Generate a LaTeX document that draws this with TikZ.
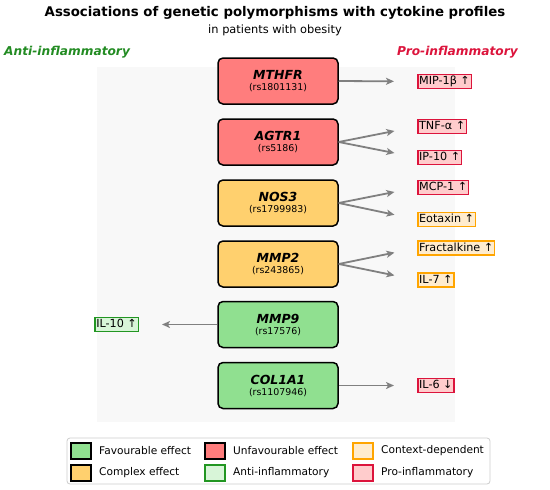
\documentclass[tikz,border=0pt]{standalone}
\usepackage{fontspec}
\setmainfont{DejaVu Sans}
\usepackage{xcolor}
\usetikzlibrary{arrows.meta}

\definecolor{favcol}{RGB}{144,224,144}
\definecolor{unfavcol}{RGB}{255,125,125}
\definecolor{cmplxcol}{RGB}{255,208,110}
\definecolor{procol}{RGB}{220,20,60}
\definecolor{profill}{RGB}{255,204,204}
\definecolor{ctxcol}{RGB}{255,165,0}
\definecolor{ctxfill}{RGB}{255,236,206}
\definecolor{anticol}{RGB}{34,150,34}
\definecolor{antifill}{RGB}{216,245,216}
\definecolor{antitext}{RGB}{34,139,34}
\definecolor{linkgray}{RGB}{128,128,128}
\definecolor{bgcol}{RGB}{248,248,248}

\tikzset{
  gene/.style={draw=black, line width=1.5pt, rounded corners=5pt, minimum width=120pt, minimum height=46pt, align=center, inner sep=0pt},
  cyto/.style={line width=1.5pt, font=\fontsize{11.2}{12}\selectfont, inner sep=1.4pt, text height=8.8pt, text depth=2.6pt},
  pro/.style={cyto, draw=procol, fill=profill},
  ctx/.style={cyto, draw=ctxcol, fill=ctxfill},
  anti/.style={cyto, draw=anticol, fill=antifill},
  link/.style={-{Stealth[length=8pt,width=7pt,inset=2pt]}, draw=linkgray, fill=linkgray, line width=1.8pt, shorten >=23pt},
  patch/.style={minimum width=20pt, minimum height=16pt, inner sep=0pt, line width=1.3pt},
  legtext/.style={anchor=west, font=\fontsize{10.6}{12}\selectfont, inner sep=0pt}
}

\newcommand{\genelabel}[2]{{\fontsize{12.5}{14}\selectfont\bfseries\itshape #1}\\[-1pt]{\fontsize{9.4}{11}\selectfont (#2)}}

\begin{document}
\begin{tikzpicture}[x=1pt, y=-1pt]
    \useasboundingbox (0,0) rectangle (550,490);

    % Title
    \node[font=\fontsize{13.3}{16}\selectfont\bfseries] (title) at (275,12.5) {Associations of genetic polymorphisms with cytokine profiles};
    \node[font=\fontsize{11.4}{14}\selectfont] (subtitle) at (275,30.5) {in patients with obesity};
    \node[anchor=west, text=antitext, font=\fontsize{12.2}{14}\selectfont\bfseries\itshape, inner sep=0pt] (antihead) at (4,52) {Anti-inflammatory};
    \node[anchor=east, text=procol, font=\fontsize{12.2}{14}\selectfont\bfseries\itshape, inner sep=0pt] (prohead) at (518,52) {Pro-inflammatory};

    % Background panel
    \fill[bgcol] (97,67) rectangle (455,422);

    % Genes
    \node[gene, fill=unfavcol] (mthfr) at (278,81) {\genelabel{MTHFR}{rs1801131}};
    \node[gene, fill=unfavcol] (agtr) at (278,142) {\genelabel{AGTR1}{rs5186}};
    \node[gene, fill=cmplxcol] (nos) at (278,203) {\genelabel{NOS3}{rs1799983}};
    \node[gene, fill=cmplxcol] (mmpii) at (278,264) {\genelabel{MMP2}{rs243865}};
    \node[gene, fill=favcol] (mmpix) at (278,324.5) {\genelabel{MMP9}{rs17576}};
    \node[gene, fill=favcol] (colia) at (278,385.5) {\genelabel{COL1A1}{rs1107946}};

    % Cytokines
    \node[pro, anchor=west] (mip) at (417,81.5) {MIP-1β ↑};
    \node[pro, anchor=west] (tnf) at (417,126.5) {TNF-α ↑};
    \node[pro, anchor=west] (ip) at (417,157.5) {IP-10 ↑};
    \node[pro, anchor=west] (mcp) at (417,187.5) {MCP-1 ↑};
    \node[ctx, anchor=west] (eot) at (417,219.5) {Eotaxin ↑};
    \node[ctx, anchor=west] (frac) at (417,248) {Fractalkine ↑};
    \node[ctx, anchor=west] (ilvii) at (417,280) {IL-7 ↑};
    \node[pro, anchor=west] (ilvi) at (417,385.5) {IL-6 ↓};
    \node[anti, anchor=east] (ilx) at (139,324.5) {IL-10 ↑};

    % Links
    \draw[link] (mthfr.east) -- (mip.west);
    \draw[link] (agtr.east) -- (tnf.west);
    \draw[link] (agtr.east) -- (ip.west);
    \draw[link] (nos.east) -- (mcp.west);
    \draw[link] (nos.east) -- (eot.west);
    \draw[link] (mmpii.east) -- (frac.west);
    \draw[link] (mmpii.east) -- (ilvii.west);
    \draw[link] (mmpix.west) -- (ilx.east);
    \draw[link] (colia.east) -- (ilvi.west);

    % Legend
    \draw[draw=black!20, fill=white, rounded corners=3pt, line width=0.8pt] (67,438) rectangle (490,484);
    \node[patch, draw=black, fill=favcol] (lfav) at (81,451) {};
    \node[legtext] at (99,451) {Favourable effect};
    \node[patch, draw=black, fill=cmplxcol] (lcmplx) at (81,473) {};
    \node[legtext] at (99,473) {Complex effect};
    \node[patch, draw=black, fill=unfavcol] (lunfav) at (215,451) {};
    \node[legtext] at (233,451) {Unfavourable effect};
    \node[patch, draw=anticol, fill=antifill] (lanti) at (215,473) {};
    \node[legtext] at (233,473) {Anti-inflammatory};
    \node[patch, draw=ctxcol, fill=ctxfill] (lctx) at (363,451) {};
    \node[legtext] at (381,451) {Context-dependent};
    \node[patch, draw=procol, fill=profill] (lpro) at (363,473) {};
    \node[legtext] at (381,473) {Pro-inflammatory};
\end{tikzpicture}
\end{document}
